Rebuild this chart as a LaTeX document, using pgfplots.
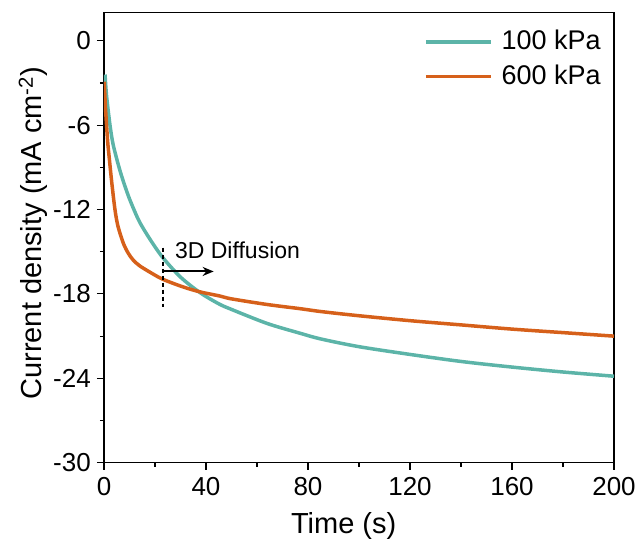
\documentclass[border=0pt]{standalone}
\usepackage{fontspec}
\setmainfont{Liberation Sans}
\usepackage{pgfplots}
\pgfplotsset{compat=1.18}
\usetikzlibrary{arrows.meta}

\definecolor{tealc}{RGB}{92,180,168}
\definecolor{orangec}{RGB}{214,96,26}

\begin{document}
\begin{tikzpicture}
\path[use as bounding box] (-104bp,-78.3bp) rectangle (537bp,462.7bp);
\begin{axis}[
    at={(0,0)}, anchor=south west,
    scale only axis, width=510bp, height=450bp,
    xmin=0, xmax=200, ymin=-30, ymax=2,
    xtick={0,40,...,200}, ytick={-30,-24,...,0},
    minor x tick num=1, minor y tick num=1,
    tick pos=left, tick align=outside,
    major tick length=7bp, minor tick length=4bp,
    axis line style={line width=1.1bp},
    every tick/.style={black, line width=1.1bp},
    /pgf/number format/assume math mode=true,
    tick label style={font=\fontsize{26bp}{30bp}\selectfont, inner sep=0pt},
    xticklabel style={yshift=-7bp},
    yticklabel style={xshift=-6bp},
    xlabel={Time (s)},
    ylabel={Current density (mA cm\textsuperscript{-2})},
    label style={font=\fontsize{29bp}{34bp}\selectfont, inner sep=0pt},
    xlabel style={at={(axis description cs:0.47,-0.157)}, anchor=base},
    ylabel style={at={(axis description cs:-0.1216,0.51)}, anchor=base},
    legend style={at={(axis description cs:0.9745,0.963)}, anchor=north east,
        draw=none, fill=none, font=\fontsize{27bp}{31bp}\selectfont,
        row sep=9.7bp, column sep=9bp, inner sep=0pt,
        nodes={inner sep=0pt, text height=20bp, text depth=5bp}},
    legend cell align=left,
    legend image code/.code={\draw[#1, line width=3.5bp] (0bp,0bp) -- (65bp,0bp);},
]
\addplot[tealc, line width=3.5bp, smooth] coordinates {
    (0.4,-2.4) (1.0,-3.9) (2.35,-6.0) (3.5,-7.3) (5.0,-8.4) (6.3,-9.25)
    (7.6,-10.0) (9.5,-11.0) (11.5,-11.9) (14,-12.9) (18,-14.1) (23,-15.4)
    (30,-16.8) (37.6,-17.9) (45,-18.7) (50,-19.1) (64,-20.1) (77,-20.8)
    (85,-21.2) (100,-21.75) (120,-22.3) (140,-22.8) (160,-23.2) (180,-23.55)
    (200,-23.85)
};
\addlegendentry{100 kPa}
\addplot[orangec, line width=3.5bp, smooth] coordinates {
    (0.1,-2.9) (0.5,-4.5) (1.0,-6.0) (1.5,-7.3) (2.1,-8.4) (3.0,-10.0)
    (4.3,-12.0) (5.5,-13.2) (7.6,-14.4) (9.5,-15.1) (11.5,-15.6) (14,-16.0)
    (18,-16.45) (23,-16.95) (31,-17.5) (37.6,-17.85) (45.5,-18.15) (50,-18.35)
    (64,-18.75) (77,-19.05) (85,-19.25) (100,-19.55) (120,-19.9) (140,-20.2)
    (160,-20.5) (180,-20.75) (200,-21.0)
};
\addlegendentry{600 kPa}
\draw[black, line width=2bp, dash pattern=on 4bp off 3bp] (axis cs:23,-14.7) -- (axis cs:23,-18.9);
\draw[black, line width=2bp, -{Stealth[length=11bp, width=9bp]}] (axis cs:23,-16.4) -- (axis cs:43,-16.4);
\node[anchor=base west, inner sep=0pt, font=\fontsize{23bp}{27bp}\selectfont] at (axis cs:27.8,-15.5) {3D Diffusion};
\end{axis}
\end{tikzpicture}
\end{document}
